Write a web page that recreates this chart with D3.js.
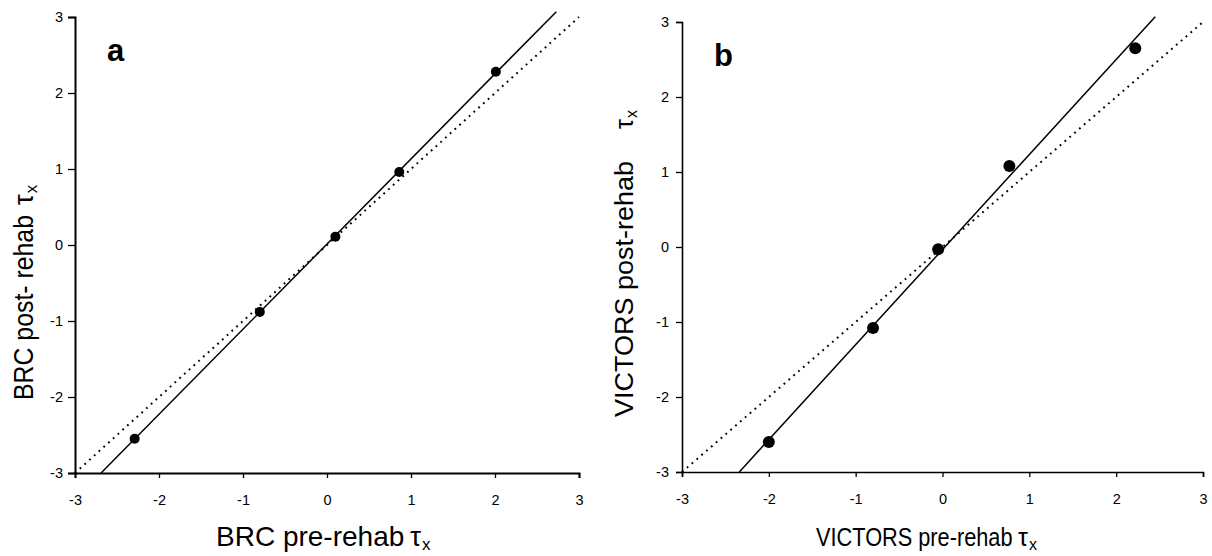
<!DOCTYPE html>
<html><head><meta charset="utf-8">
<script src="https://cdn.jsdelivr.net/npm/d3@7"></script>
<style>
body{margin:0;background:#fff}
svg{display:block}
text{font-family:"Liberation Sans",Arial,sans-serif;fill:#000}
</style></head>
<body><svg id="c" width="1212" height="556"></svg>
<script>
// ---- data ----
const tickValues = [-3, -2, -1, 0, 1, 2, 3];
const brcPre  = [-2.29, -0.80, 0.10, 0.86, 2.01];
const brcPost = [-2.55, -0.88, 0.11, 0.96, 2.28];
const brcFitX = [-2.69, 2.73];
const brcFitY = [-3.00, 3.07];
const vicPre  = [-2.00, -0.80, -0.05, 0.77, 2.22];
const vicPost = [-2.60, -1.08, -0.03, 1.08, 2.65];
const vicFitX = [-2.34, 2.45];
const vicFitY = [-3.00, 3.07];
const identityXY = [-3, 3];

const panels = [
  {label:"a", pre:brcPre, post:brcPost, fitX:brcFitX, fitY:brcFitY,
   xr:[75,579], yr:[473,17], r:5, aw:2, ytick:7, ypad:5,
   lab:[107,61],
   xt:{text:"BRC pre-rehab", x:216, y:546, fs:28, sx:1, tau:194},
   yt:{text:"BRC post- rehab", x:33, y:400, fs:27, sx:0.92, tau:195}},
  {label:"b", pre:vicPre, post:vicPost, fitX:vicFitX, fitY:vicFitY,
   xr:[682,1203], yr:[472,22], r:6, aw:1.6, ytick:6, ypad:7,
   lab:[714,66],
   xt:{text:"VICTORS pre-rehab", x:816, y:546, fs:25, sx:0.87, tau:202},
   yt:{text:"VICTORS post-rehab", x:633, y:417, fs:25, sx:1.08, tau:288}}
];

const svg = d3.select("#c");

function title(g, t, rotate){
  const base = rotate ? `translate(${t.x},${t.y}) rotate(-90)` : `translate(${t.x},${t.y})`;
  const grp = g.append("g").attr("transform", base);
  grp.append("text").attr("font-size", t.fs).attr("transform", `scale(${t.sx},1)`).text(t.text);
  const tt = grp.append("text").attr("font-size", t.fs).attr("x", t.tau).attr("y", 0);
  tt.append("tspan").text("τ");
  tt.append("tspan").attr("font-size", Math.round(t.fs*0.62)).attr("dx", 1).attr("dy", 4).text("x");
}

panels.forEach(p => {
  const x = d3.scaleLinear().domain([-3,3]).range(p.xr);
  const y = d3.scaleLinear().domain([-3,3]).range(p.yr);
  const g = svg.append("g");

  const ax = g.append("g").attr("transform",`translate(0,${p.yr[0]})`)
    .call(d3.axisBottom(x).tickValues(tickValues).tickFormat(d=>String(d)).tickSizeOuter(0).tickSize(5).tickPadding(17));
  const ay = g.append("g").attr("transform",`translate(${p.xr[0]},0)`)
    .call(d3.axisLeft(y).tickValues(tickValues).tickFormat(d=>String(d)).tickSizeOuter(0).tickSize(p.ytick).tickPadding(p.ypad));
  [ax,ay].forEach(a=>{
    a.select(".domain").attr("stroke","#000").attr("stroke-width",p.aw);
    a.selectAll(".tick line").attr("stroke","#000").attr("stroke-width",1.3);
    a.selectAll(".tick text").attr("font-size",14.5).attr("font-family","Liberation Sans, Arial, sans-serif").attr("fill","#000");
  });

  // identity dotted line
  g.append("line")
    .attr("x1",x(identityXY[0])).attr("y1",y(identityXY[0]))
    .attr("x2",x(identityXY[1])).attr("y2",y(identityXY[1]))
    .attr("stroke","#000").attr("stroke-width",2).attr("stroke-dasharray","1.8,4.6");

  // fitted solid line
  g.append("line")
    .attr("x1",x(p.fitX[0])).attr("y1",y(p.fitY[0]))
    .attr("x2",x(p.fitX[1])).attr("y2",y(p.fitY[1]))
    .attr("stroke","#000").attr("stroke-width",1.5);

  g.selectAll("circle.pt").data(p.pre.map((v,i)=>[v,p.post[i]])).join("circle")
    .attr("class","pt").attr("cx",d=>x(d[0])).attr("cy",d=>y(d[1])).attr("r",p.r).attr("fill","#000");

  g.append("text").attr("x",p.lab[0]).attr("y",p.lab[1]).attr("font-size",31).attr("font-weight","bold").text(p.label);

  title(g, p.xt, false);
  title(g, p.yt, true);
});
</script></body></html>
